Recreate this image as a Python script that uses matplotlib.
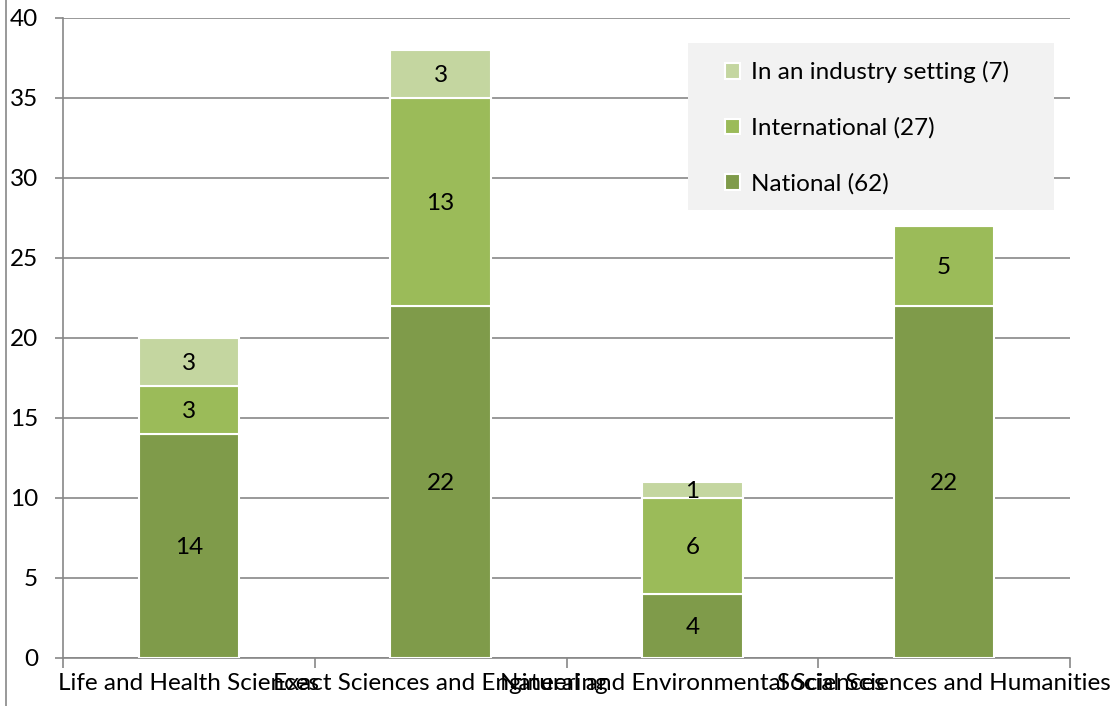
import matplotlib
matplotlib.use("Agg")
import matplotlib.pyplot as plt
from matplotlib.lines import Line2D
from matplotlib.patches import Rectangle
import numpy as np

plt.rcParams['font.family'] = ['Lato', 'DejaVu Sans']

categories = ["Life and Health Sciences", "Exact Sciences and Engineering",
              "Natural and Environmental Sciences", "Social Sciences and Humanities"]
national = [14, 22, 4, 22]
international = [3, 13, 6, 5]
industry = [3, 3, 1, 0]
series_labels = ["National (62)", "International (27)", "In an industry setting (7)"]
colors = ["#7F9B4A", "#9BBB59", "#C4D6A0"]

FS = 17.5
W, H = 1117, 706
fig = plt.figure(figsize=(W/100, H/100), dpi=100)
ax = fig.add_axes([63/W, 1 - 658/H, (1070-63)/W, (658-18)/H])

x = np.arange(len(categories))
series = [national, international, industry]
bottom = np.zeros(len(categories))
handles = []
for vals, lab, col in zip(series, series_labels, colors):
    vals = np.array(vals, dtype=float)
    bars = ax.bar(x, vals, width=0.4, bottom=bottom, color=col,
                  edgecolor="white", linewidth=1.5, label=lab, zorder=3)
    for b, v, bt in zip(bars, vals, bottom):
        if v > 0:
            ax.text(b.get_x() + b.get_width()/2, bt + v/2 - 0.1, f"{int(v)}",
                    ha="center", va="center", fontsize=FS, color="black", zorder=4)
    handles.append(bars)
    bottom += vals

ax.set_xlim(-0.5, len(categories) - 0.5)
ax.set_ylim(0, 40)
ax.set_yticks(range(0, 41, 5))
ax.yaxis.grid(True, color="#878787", linewidth=1.2, zorder=0)
ax.set_axisbelow(True)

ax.set_xticks(x)
ax.set_xticklabels(categories, fontsize=FS)
ax.tick_params(axis="x", length=0, pad=11)
ax.set_xticks(np.arange(-0.5, len(categories), 1.0), minor=True)
ax.tick_params(axis="x", which="minor", length=7, width=1.2, color="#878787")
ax.tick_params(axis="y", length=6, width=1.2, color="#878787", labelsize=FS, pad=12)

for s in ["top", "right"]:
    ax.spines[s].set_visible(False)
for s in ["left", "bottom"]:
    ax.spines[s].set_color("#878787")
    ax.spines[s].set_linewidth(1.2)

# legend background box
fig.add_artist(Rectangle((688/W, 1 - 210/H), (1054-688)/W, (210-43)/H,
                         transform=fig.transFigure, facecolor="#F2F2F2",
                         edgecolor="none", zorder=5))
leg = fig.legend(handles[::-1], series_labels[::-1], loc="upper left",
                 bbox_to_anchor=(718/W, 1 - 54/H),
                 frameon=False, fontsize=FS, handlelength=0.6,
                 handleheight=0.6, handletextpad=0.45, labelspacing=1.4,
                 borderpad=0.3, borderaxespad=0)
leg.set_zorder(6)

fig.add_artist(Line2D([6/W, 6/W], [0, 1], color="#878787", linewidth=1.2,
                      transform=fig.transFigure))

fig.savefig("out.png", dpi=100)
